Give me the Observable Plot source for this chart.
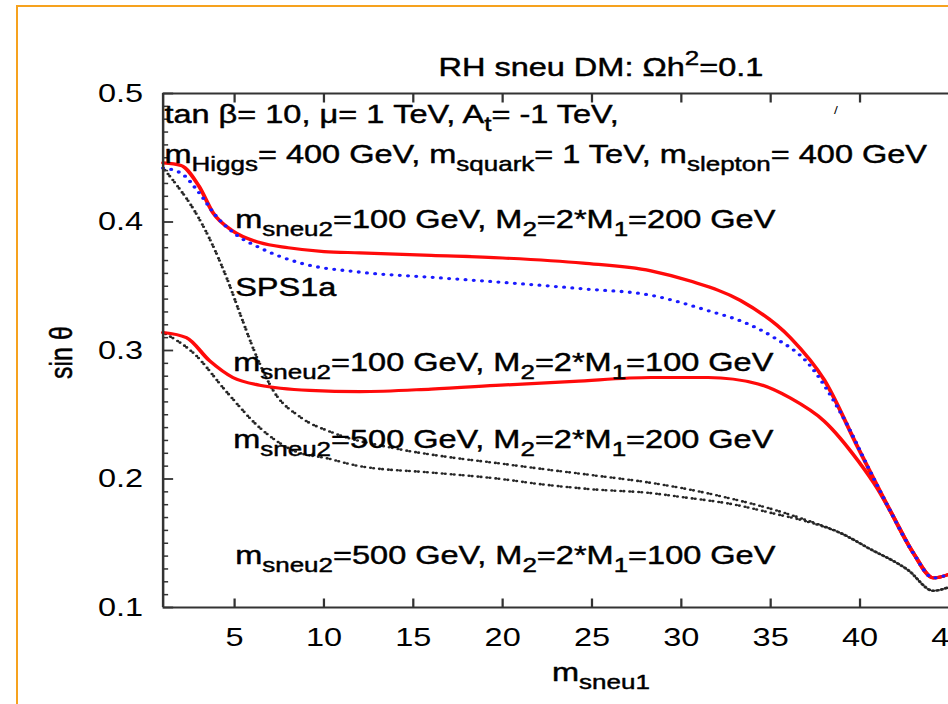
<!DOCTYPE html>
<html><head><meta charset="utf-8">
<script src="https://cdn.jsdelivr.net/npm/d3@7"></script>
<script src="https://cdn.jsdelivr.net/npm/@observablehq/plot@0.6"></script>
<style>
html,body{margin:0;padding:0;background:#fff;overflow:hidden;width:948px;height:704px;}
#wrap{position:absolute;left:0;top:0;transform:scaleX(1.25);transform-origin:0 0;}
#border{position:absolute;left:16px;top:5px;width:2000px;height:2000px;border:2px solid #f6a21e;pointer-events:none;}
</style></head><body>
<div id="wrap"></div><div id="border"></div>
<script>
// ---- tick values ----
const xTicks = [5, 10, 15, 20, 25, 30, 35, 40, 45];
const yTicks = [0.1, 0.2, 0.3, 0.4, 0.5];
const yMinor = [0.11,0.12,0.13,0.14,0.15,0.16,0.17,0.18,0.19,0.21,0.22,0.23,0.24,0.25,0.26,0.27,0.28,0.29,
                0.31,0.32,0.33,0.34,0.35,0.36,0.37,0.38,0.39,0.41,0.42,0.43,0.44,0.45,0.46,0.47,0.48,0.49];

// ---- series (m_sneu1 vs sin theta) ----
const redUpperX = [1, 2, 3, 3.8, 4.9, 6.4, 8, 10, 12, 16, 20, 24.5, 28.3, 30.5, 33.3, 36.1, 38, 39.9, 41.7, 43, 44.1, 45];
const redUpperY = [0.446, 0.444, 0.428, 0.407, 0.393, 0.384, 0.380, 0.377, 0.376, 0.374, 0.372, 0.368, 0.362, 0.354, 0.339, 0.310, 0.277, 0.224, 0.175, 0.142, 0.123, 0.126];

const blueX = [1, 2, 3, 4, 5.1, 6.4, 8.7, 12, 16, 20, 24.5, 28.3, 31.5, 33.5, 35.2, 37.1, 38.9, 40.6, 41.7, 43, 44.1, 45];
const blueY = [0.442, 0.438, 0.423, 0.404, 0.390, 0.380, 0.368, 0.361, 0.357, 0.353, 0.348, 0.343, 0.331, 0.322, 0.310, 0.290, 0.252, 0.205, 0.175, 0.142, 0.123, 0.126];

const redLowerX = [1, 2.3, 3.6, 4.9, 6.4, 9.2, 12, 16, 19.9, 24, 28.3, 31.5, 34.3, 36.1, 38, 39.9, 41, 41.7, 43, 44.1, 45];
const redLowerY = [0.314, 0.310, 0.292, 0.279, 0.273, 0.269, 0.268, 0.270, 0.273, 0.276, 0.279, 0.279, 0.274, 0.263, 0.245, 0.214, 0.192, 0.175, 0.142, 0.123, 0.126];

const blackUpperX = [1, 1.8, 2.7, 3.6, 4.6, 5.4, 6.3, 7.2, 8.7, 10.5, 13.9, 17, 19.9, 22.1, 25, 28.3, 30, 33, 35.2, 37, 38.9, 40.5, 42.7, 44.1, 45];
const blackUpperY = [0.442, 0.428, 0.410, 0.387, 0.355, 0.325, 0.293, 0.268, 0.248, 0.236, 0.224, 0.217, 0.212, 0.208, 0.203, 0.197, 0.193, 0.184, 0.176, 0.168, 0.158, 0.146, 0.129, 0.113, 0.116];

const blackLowerX = [1, 2.7, 4.6, 6.4, 8.3, 10.2, 12, 16, 19.9, 22.1, 25, 28.3, 30, 33, 35.2, 37, 38.9, 40.5, 42.7, 44.1, 45];
const blackLowerY = [0.314, 0.298, 0.267, 0.240, 0.222, 0.216, 0.210, 0.205, 0.200, 0.196, 0.192, 0.189, 0.186, 0.180, 0.173, 0.167, 0.158, 0.146, 0.129, 0.113, 0.116];

// ---- texts ----
const titleText = "RH sneu DM: Ωh^{2}=0.1";
const xLabel = "m_{sneu1}";
const yLabel = "sin θ";
const headerLines = ["tan β= 10, μ= 1 TeV, A_{t}= -1 TeV,", "m_{Higgs}= 400 GeV, m_{squark}= 1 TeV, m_{slepton}= 400 GeV"];
const curveLabels = [
  "m_{sneu2}=100 GeV, M_{2}=2*M_{1}=200 GeV",
  "SPS1a",
  "m_{sneu2}=100 GeV, M_{2}=2*M_{1}=100 GeV",
  "m_{sneu2}=500 GeV, M_{2}=2*M_{1}=200 GeV",
  "m_{sneu2}=500 GeV, M_{2}=2*M_{1}=100 GeV"
];

const zip = (xs, ys, s) => xs.map((x, i) => ({x, y: ys[i], s}));
const redUpper = zip(redUpperX, redUpperY, "red upper");
const blue = zip(blueX, blueY, "blue");
const redLower = zip(redLowerX, redLowerY, "red lower");
const blackUpper = zip(blackUpperX, blackUpperY, "black upper");
const blackLower = zip(blackLowerX, blackLowerY, "black lower");

const header = [{t: headerLines[0], x: 1, y: 0.4774}, {t: headerLines[1], x: 1, y: 0.4463}];
const annots = [
  {t: curveLabels[0], x: 5.03, y: 0.3957},
  {t: curveLabels[1], x: 5.03, y: 0.3428},
  {t: curveLabels[2], x: 4.92, y: 0.2844},
  {t: curveLabels[3], x: 4.92, y: 0.2245},
  {t: curveLabels[4], x: 5.03, y: 0.1342}
];

// layout
const W = 759, H = 704, ML = 130, MR = 0, MT = 93, MB = 97;
const xDom = [1, 45], yDom = [0.1, 0.5];
// tick lengths: pixels converted to data units through the scale ratios
const pxX = (W - ML - MR) / (xDom[1] - xDom[0]);
const pxY = (H - MT - MB) / (yDom[1] - yDom[0]);
const tkX = 9 / pxY, tkYmaj = 8 / pxX, tkYmin = 4 / pxX;

const axisStroke = "#333";
const ink = {fill: "#000", stroke: "#000", strokeWidth: 0.45};
const blackDot = {stroke: "#262626", strokeWidth: 2.6, strokeDasharray: "0 2.5 0 4.7", strokeLinecap: "round", curve: "monotone-x"};

const svg = Plot.plot({
  width: W, height: H,
  marginTop: MT, marginBottom: MB, marginLeft: ML, marginRight: MR,
  style: {fontFamily: "'Liberation Sans', Arial, sans-serif", fontSize: "26px", color: "#000", background: "transparent"},
  x: {domain: xDom, label: null},
  y: {domain: yDom, label: null},
  marks: [
    Plot.line(blackUpper, {x: "x", y: "y", ...blackDot}),
    Plot.line(blackLower, {x: "x", y: "y", ...blackDot}),
    Plot.line(redUpper, {x: "x", y: "y", stroke: "#ff0a0a", strokeWidth: 3.2, curve: "monotone-x"}),
    Plot.line(redLower, {x: "x", y: "y", stroke: "#ff0a0a", strokeWidth: 3.2, curve: "monotone-x"}),
    Plot.line(blue, {x: "x", y: "y", stroke: "#1a1aff", strokeWidth: 3.3, strokeDasharray: "0 6.6", strokeLinecap: "round", curve: "monotone-x"}),
    // frame
    Plot.ruleY([yDom[0], yDom[1]], {stroke: axisStroke, strokeWidth: 2}),
    Plot.ruleX([xDom[0]], {stroke: axisStroke, strokeWidth: 2}),
    // inward ticks
    Plot.link(xTicks, {x1: d => d, x2: d => d, y1: yDom[0], y2: yDom[0] + tkX, stroke: axisStroke, strokeWidth: 1.8}),
    Plot.link(xTicks, {x1: d => d, x2: d => d, y1: yDom[1], y2: yDom[1] - tkX, stroke: axisStroke, strokeWidth: 1.8}),
    Plot.link(yTicks, {x1: xDom[0], x2: xDom[0] + tkYmaj, y1: d => d, y2: d => d, stroke: axisStroke, strokeWidth: 1.8}),
    Plot.link(yMinor, {x1: xDom[0], x2: xDom[0] + tkYmin, y1: d => d, y2: d => d, stroke: axisStroke, strokeWidth: 1.5}),
    // tick labels
    Plot.axisX(xTicks, {anchor: "bottom", tickSize: 0, tickPadding: 20, label: null, ...ink}),
    Plot.axisY(yTicks, {anchor: "left", tickSize: 0, tickPadding: 16, tickFormat: d3.format(".1f"), label: null, ...ink}),
    // texts
    Plot.text([titleText], {x: 25.5, frameAnchor: "top", dy: -18, lineAnchor: "bottom", textAnchor: "middle", ...ink}),
    Plot.text([xLabel], {x: 25.5, frameAnchor: "bottom", dy: 73, lineAnchor: "bottom", textAnchor: "middle", ...ink}),
    Plot.text([yLabel], {y: 0.2984, frameAnchor: "left", dx: -81, rotate: -90, textAnchor: "middle", fontSize: 25, ...ink}),
    Plot.text(header, {x: "x", y: "y", text: "t", dx: 1, textAnchor: "start", lineAnchor: "bottom", ...ink}),
    Plot.text(annots, {x: "x", y: "y", text: "t", textAnchor: "start", lineAnchor: "bottom", ...ink}),
    Plot.text(["/"], {x: 38.65, y: 0.4865, fontSize: 11, fill: "#000"})
  ]
});

// turn _{..} and ^{..} into sub/superscript tspans
function richify(root) {
  const NS = "http://www.w3.org/2000/svg";
  root.querySelectorAll("text").forEach(t => {
    const s = t.textContent;
    if (!/[_^]\{/.test(s)) return;
    while (t.firstChild) t.removeChild(t.firstChild);
    const re = /([_^])\{([^}]*)\}/g;
    let last = 0, m, cur = 0;
    const add = (str, off, small) => {
      if (!str) return;
      const ts = document.createElementNS(NS, "tspan");
      ts.textContent = str;
      if (off !== cur) ts.setAttribute("dy", off - cur);
      cur = off;
      if (small) ts.setAttribute("style", "font-size:80%");
      t.appendChild(ts);
    };
    while ((m = re.exec(s))) {
      add(s.slice(last, m.index), 0, false);
      add(m[2], m[1] === "_" ? 8 : -11, true);
      last = re.lastIndex;
    }
    add(s.slice(last), 0, false);
  });
}
richify(svg);
document.getElementById("wrap").appendChild(svg);
</script></body></html>
